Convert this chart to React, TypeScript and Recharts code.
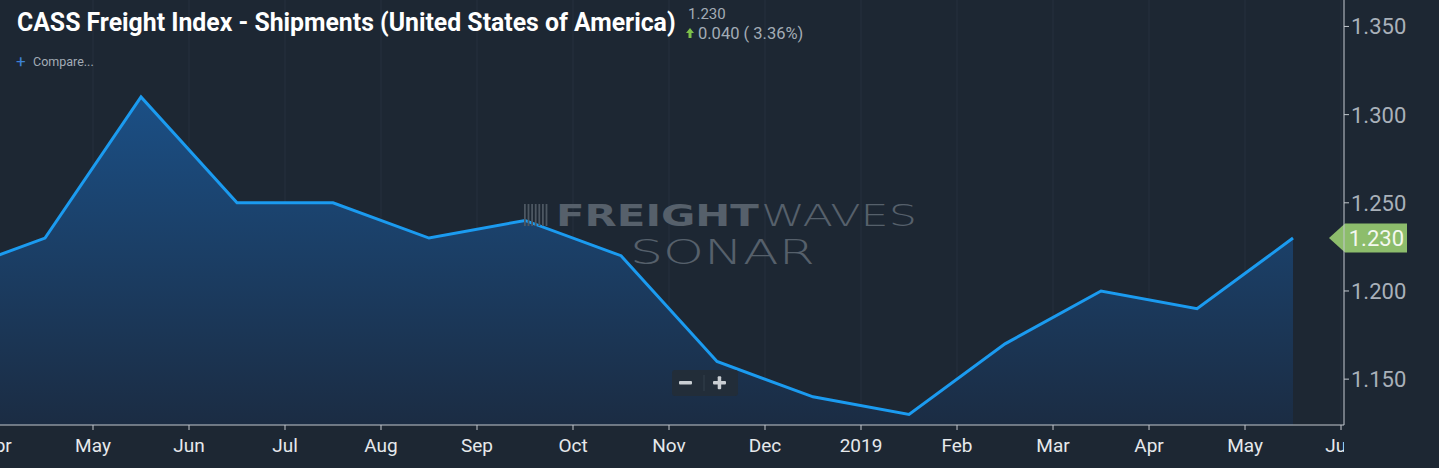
import React, { useLayoutEffect, useRef, useState } from "react";
import {
  Area,
  AreaChart,
  CartesianGrid,
  ReferenceLine,
  XAxis,
  YAxis,
} from "recharts";

// monthly readings, Mar 2018 .. May 2019 (plotted mid-month)
const pointMonths = [
  "Mar 2018", "Apr 2018", "May 2018", "Jun 2018", "Jul 2018", "Aug 2018",
  "Sep 2018", "Oct 2018", "Nov 2018", "Dec 2018", "Jan 2019", "Feb 2019",
  "Mar 2019", "Apr 2019", "May 2019",
];
const shipments = [
  1.21, 1.23, 1.31, 1.25, 1.25, 1.23, 1.24, 1.22, 1.16, 1.14, 1.13, 1.17,
  1.2, 1.19, 1.23,
];
// month-start tick labels, Apr 2018 .. Jun 2019
const monthTicks = [
  "Apr", "May", "Jun", "Jul", "Aug", "Sep", "Oct", "Nov", "Dec", "2019",
  "Feb", "Mar", "Apr", "May", "Jun",
];
const yTicks = [1.15, 1.2, 1.25, 1.3, 1.35];
const lastValue = 1.23;

const BG = "#1d2733";
const LINE = "#1b9bf0";
const AXIS = "#c3c8ce";
const CHART_W = 1442;
const CHART_H = 468;
const Y_AXIS_W = 95;
const PLOT_RIGHT = CHART_W - Y_AXIS_W;
const MARK = "#56606b";

const data = shipments.map((v, i) => ({
  month: pointMonths[i],
  x: i - 0.5,
  value: v,
}));

// squeezes a text horizontally to a target width (the original uses a condensed face)
function FitText({ x, y, width, children, ...rest }: any) {
  const ref = useRef<SVGTextElement>(null);
  const [sx, setSx] = useState(1);
  useLayoutEffect(() => {
    if (!ref.current) return;
    const len = ref.current.getComputedTextLength();
    if (len > 0) setSx(width / len);
  }, [width]);
  return (
    <g transform={`translate(${x},${y}) scale(${sx},1)`}>
      <text ref={ref} x={0} y={0} {...rest}>
        {children}
      </text>
    </g>
  );
}

function MonthTick({ x, payload }: any) {
  const label = monthTicks[payload.value] ?? "";
  return (
    <svg x={0} y={425} width={PLOT_RIGHT} height={43} overflow="hidden">
      <text
        x={x}
        y={27}
        textAnchor="middle"
        fill="#e6e9ec"
        fontSize={19}
        fontFamily="Roboto, sans-serif"
      >
        {label}
      </text>
    </svg>
  );
}

function ValueTick({ x, y, payload }: any) {
  return (
    <text
      x={x}
      y={y + 8}
      fill="#a9b1ba"
      fontSize={22}
      fontFamily="Roboto, sans-serif"
    >
      {payload.value.toFixed(3)}
    </text>
  );
}

function PriceTag({ viewBox }: any) {
  if (!viewBox) return null;
  const right = viewBox.x + viewBox.width;
  const cy = viewBox.y;
  const h = 29;
  const pts = [
    [right - 15, cy],
    [right + 1, cy - h / 2],
    [right + 63, cy - h / 2],
    [right + 63, cy + h / 2],
    [right + 1, cy + h / 2],
  ]
    .map((p) => p.join(","))
    .join(" ");
  return (
    <g>
      <polygon points={pts} fill="#8dbd6c" />
      <text
        x={right + 60}
        y={cy + 8}
        textAnchor="end"
        fill="#f4f8f0"
        fontSize={22}
        fontFamily="Roboto, sans-serif"
      >
        {lastValue.toFixed(3)}
      </text>
    </g>
  );
}

function Overlay() {
  return (
    <svg
      width={1439}
      height={468}
      style={{ position: "absolute", left: 0, top: 0, pointerEvents: "none" }}
    >
      <FitText
        x={17}
        y={31}
        width={659}
        fill="#ffffff"
        fontSize={26}
        fontWeight={700}
        fontFamily="Roboto, sans-serif"
      >
        CASS Freight Index - Shipments (United States of America)
      </FitText>
      <text x={688} y={19} fill="#a3acb6" fontSize={15} fontFamily="Roboto, sans-serif">
        1.230
      </text>
      <polygon points="690,28 694,33 691.5,33 691.5,38 688.5,38 688.5,33 686,33" fill="#7cc04a" />
      <text x={698} y={39} fill="#a3acb6" fontSize={16.5} fontFamily="Roboto, sans-serif">
        0.040 ( 3.36%)
      </text>
      <text x={16} y={67} fill="#3d82d6" fontSize={17} fontFamily="Roboto, sans-serif">
        +
      </text>
      <text x={33} y={66} fill="#a3acb6" fontSize={12.5} fontFamily="Roboto, sans-serif">
        Compare...
      </text>

      {/* watermark */}
      <g>
        {[0, 1, 2, 3, 4, 5, 6].map((i) => (
          <rect key={i} x={524 + i * 3.6} y={204} width={1.8} height={22} fill="#4d5762" />
        ))}
        <FitText
          x={556}
          y={226}
          width={203}
          fill={MARK}
          fontSize={30}
          fontWeight={900}
          fontFamily="'DejaVu Sans', sans-serif"
        >
          FREIGHT
        </FitText>
        <FitText
          x={761}
          y={226}
          width={156}
          fill={MARK}
          fontSize={31}
          fontWeight={200}
          fontFamily="'DejaVu Sans', sans-serif"
        >
          WAVES
        </FitText>
        <FitText
          x={630}
          y={264}
          width={185}
          fill={MARK}
          fontSize={34}
          fontWeight={200}
          fontFamily="'DejaVu Sans', sans-serif"
        >
          SONAR
        </FitText>
      </g>

      {/* zoom buttons */}
      <rect x={672} y={370} width={66} height={26} rx={3} fill="#222d39" />
      <line x1={704} y1={375} x2={704} y2={391} stroke="#33404d" />
      <rect x={679} y={381} width={13} height={3.5} rx={1} fill="#c9ced3" />
      <rect x={713} y={381} width={13} height={3.5} rx={1} fill="#c9ced3" />
      <rect x={717.7} y={376.3} width={3.5} height={13} rx={1} fill="#c9ced3" />
    </svg>
  );
}

export default function App() {
  return (
    <div
      style={{
        position: "absolute",
        left: 0,
        top: 0,
        width: 1439,
        height: 468,
        overflow: "hidden",
        background: BG,
      }}
    >
      <div style={{ position: "absolute", left: -3, top: 0 }}>
        <AreaChart
          width={CHART_W}
          height={CHART_H}
          data={data}
          margin={{ top: 0, right: 0, left: 0, bottom: 0 }}
        >
          <defs>
            <linearGradient id="shipFill" x1="0" y1="0" x2="0" y2="1">
              <stop offset="0%" stopColor="#1b4f85" />
              <stop offset="100%" stopColor="#1b2c43" />
            </linearGradient>
          </defs>
          <CartesianGrid stroke="#26313e" strokeWidth={1} horizontal={false} />
          <XAxis
            dataKey="x"
            type="number"
            domain={[0, 14.031]}
            ticks={monthTicks.map((_, i) => i)}
            allowDataOverflow
            interval={0}
            height={43}
            stroke={AXIS}
            tickLine={{ stroke: AXIS }}
            tickSize={5}
            tick={<MonthTick />}
          />
          <YAxis
            orientation="right"
            width={Y_AXIS_W}
            domain={[1.124, 1.365]}
            ticks={yTicks}
            allowDataOverflow
            interval={0}
            stroke={AXIS}
            tickLine={{ stroke: AXIS }}
            tickSize={5}
            tickMargin={2}
            tick={<ValueTick />}
          />
          <ReferenceLine y={lastValue} stroke="none" label={<PriceTag />} />
          <Area
            type="linear"
            dataKey="value"
            stroke={LINE}
            strokeWidth={3}
            fill="url(#shipFill)"
            fillOpacity={1}
            dot={false}
            activeDot={false}
            isAnimationActive={false}
          />
        </AreaChart>
      </div>
      <Overlay />
    </div>
  );
}
